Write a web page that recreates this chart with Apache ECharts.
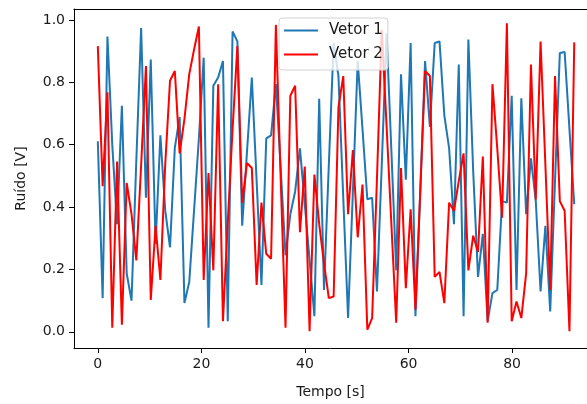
<!DOCTYPE html>
<html>
<head>
<meta charset="utf-8">
<script src="https://cdn.jsdelivr.net/npm/echarts@6/dist/echarts.min.js"></script>
<style>
html,body{margin:0;padding:0;background:#fff;}
#chart{width:587px;height:404px;}
</style>
</head>
<body>
<div id="chart"></div>
<script>
// sample step in seconds (100 samples spanning 0..92 s)
const sampleStep = 92 / 99;
const vetor1 = [
 0.611,0.108,0.947,0.600,0.345,0.725,0.187,0.100,0.550,0.974,
 0.430,0.873,0.282,0.630,0.390,0.271,0.590,0.689,0.092,0.160,
 0.390,0.620,0.879,0.013,0.789,0.815,0.868,0.034,0.963,0.931,
 0.340,0.578,0.815,0.483,0.150,0.620,0.630,0.794,0.525,0.245,
 0.377,0.450,0.588,0.410,0.230,0.050,0.747,0.134,0.535,0.926,
 0.820,0.430,0.044,0.450,0.868,0.650,0.425,0.430,0.129,0.535,
 0.958,0.580,0.197,0.826,0.488,0.926,0.050,0.450,0.868,0.657,
 0.926,0.931,0.694,0.588,0.345,0.857,0.050,0.937,0.514,0.176,
 0.314,0.034,0.124,0.134,0.419,0.414,0.757,0.134,0.749,0.377,
 0.556,0.420,0.129,0.340,0.065,0.483,0.894,0.897,0.650,0.409
];
const vetor2 = [
 0.916,0.467,0.768,0.013,0.546,0.023,0.477,0.377,0.229,0.535,
 0.852,0.102,0.340,0.166,0.535,0.805,0.836,0.572,0.683,0.826,
 0.905,0.979,0.166,0.509,0.197,0.794,0.034,0.350,0.650,0.916,
 0.414,0.541,0.525,0.150,0.414,0.250,0.234,0.984,0.490,0.013,
 0.757,0.789,0.319,0.530,0.002,0.504,0.345,0.219,0.108,0.113,
 0.720,0.820,0.377,0.583,0.303,0.472,0.007,0.044,0.490,0.968,
 0.660,0.345,0.029,0.525,0.140,0.393,0.071,0.450,0.836,0.820,
 0.176,0.192,0.092,0.414,0.388,0.483,0.572,0.197,0.308,0.256,
 0.562,0.029,0.794,0.588,0.366,0.989,0.034,0.097,0.044,0.187,
 0.857,0.424,0.931,0.535,0.134,0.820,0.419,0.388,0.002,0.928
];
const xTicks = [0, 20, 40, 60, 80];
const yTicks = [0.0, 0.2, 0.4, 0.6, 0.8, 1.0];
const seriesNames = ['Vetor 1', 'Vetor 2'];

const toPairs = arr => arr.map((v, i) => [i * sampleStep, v]);
const font = 'DejaVu Sans';
const txt = '#1a1a1a';

const chart = echarts.init(document.getElementById('chart'), null, {renderer: 'canvas'});
chart.setOption({
  animation: false,
  backgroundColor: '#fff',
  grid: {left: 74, top: 9, right: 0, bottom: 52, show: false},
  legend: {
    orient: 'vertical', left: 279, top: 18,
    data: seriesNames,
    icon: 'rect',
    itemWidth: 34, itemHeight: 2, itemGap: 7,
    padding: [4, 5, 7, 5],
    backgroundColor: 'rgba(255,255,255,0.8)',
    borderColor: '#d3d3d3', borderWidth: 1, borderRadius: 3,
    textStyle: {fontFamily: font, fontSize: 15, color: txt, lineHeight: 17, padding: [0, 0, 0, 6]}
  },
  xAxis: [{
    type: 'value', min: -4.6, max: 94.46,
    name: 'Tempo [s]', nameLocation: 'middle', nameGap: 37,
    nameTextStyle: {fontFamily: font, fontSize: 14, color: txt},
    axisLine: {show: true, onZero: false, lineStyle: {color: '#000', width: 1}},
    axisTick: {show: true, length: 5, lineStyle: {color: '#000'}, customValues: xTicks},
    axisLabel: {fontFamily: font, fontSize: 14, color: txt, margin: 9, customValues: xTicks, formatter: v => String(v)},
    splitLine: {show: false}
  }, {
    type: 'value', position: 'top', min: -4.6, max: 94.46,
    axisLine: {show: true, onZero: false, lineStyle: {color: '#000', width: 1}},
    axisTick: {show: false}, axisLabel: {show: false}, splitLine: {show: false}
  }],
  yAxis: {
    type: 'value', min: -0.052, max: 1.035,
    name: 'Ruído [V]', nameLocation: 'middle', nameGap: 46, nameRotate: 90,
    nameTextStyle: {fontFamily: font, fontSize: 14, color: txt},
    axisLine: {show: true, onZero: false, lineStyle: {color: '#000', width: 1}},
    axisTick: {show: true, length: 5, lineStyle: {color: '#000'}, customValues: yTicks},
    axisLabel: {fontFamily: font, fontSize: 14, color: txt, margin: 9, customValues: yTicks, formatter: v => v.toFixed(1)},
    splitLine: {show: false}
  },
  series: [
    {name: seriesNames[0], type: 'line', data: toPairs(vetor1), symbol: 'none', lineStyle: {color: '#1f77b4', width: 2}, itemStyle: {color: '#1f77b4'}},
    {name: seriesNames[1], type: 'line', data: toPairs(vetor2), symbol: 'none', lineStyle: {color: '#ff0000', width: 2}, itemStyle: {color: '#ff0000'}}
  ]
});
</script>
</body>
</html>
